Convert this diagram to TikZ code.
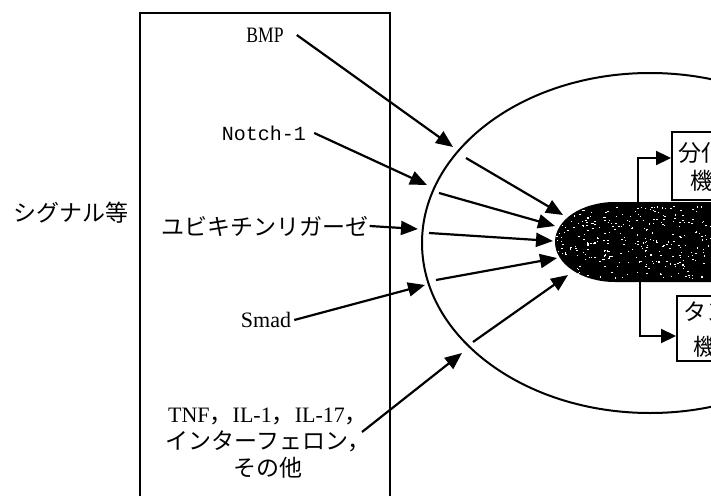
\documentclass[tikz,border=0pt]{standalone}
\usepackage{fontspec}
\setmainfont{Liberation Serif}
\newfontfamily\monof{Liberation Mono}
\newfontfamily\narrowserif{Liberation Serif}[FakeStretch=0.8]
\newfontfamily\cjk{Noto Sans CJK JP}
\usetikzlibrary{arrows.meta}
\newcommand\jtext[1]{{\cjk\fontsize{23}{27}\selectfont #1}}
\newcommand\jcomma{\makebox[23pt][l]{\jtext{，}}}
\begin{document}
\begin{tikzpicture}[x=1pt,y=-1pt,
  lbl/.style={font=\fontsize{22}{27}\selectfont, inner sep=0pt},
  arr/.style={line width=2.2pt, -{Triangle[length=17pt,width=14pt]}},
  elb/.style={line width=2.2pt, -{Triangle[length=15pt,width=14pt]}},
  frame/.style={line width=2.8pt},
  ring/.style={line width=2pt},
  rbox/.style={draw, line width=2pt, anchor=north west, inner sep=0pt}]
\useasboundingbox (0,0) rectangle (711,495);
\clip (0,0) rectangle (711,495);

% left frame
\draw[frame] (140,13) rectangle (390,530);

% outer ellipse
\draw[ring] (650,243) ellipse [x radius=228pt, y radius=170pt];

% black core
\begin{scope}
\clip (740,202) -- (615,202) arc[start angle=90, end angle=270, x radius=60pt, y radius=40pt] -- (740,282) -- cycle;
\fill[black] (550,195) rectangle (740,290);
\pgfmathsetseed{11}
\foreach \i in {1,...,320}{
  \pgfmathsetmacro\px{555+rnd*160}
  \pgfmathsetmacro\py{206+rnd*72}
  \fill[white] (\px,\py) rectangle ++(1.4,1.1);
}
\end{scope}

% labels
\node[lbl] (sig) at (71,213) {\jtext{シグナル等}};
\node[lbl, inner xsep=13pt, font=\fontsize{22}{27}\narrowserif] (bmp) at (265,35) {BMP};
\node[lbl, inner xsep=8pt, font=\fontsize{20}{27}\monof] (notch) at (264,133) {Notch-1};
\node[lbl, inner xsep=1pt] (ubi) at (265,226) {\jtext{ユビキチンリガーゼ}};
\node[lbl, inner xsep=3pt] (smad) at (266,320) {Smad};
\node[lbl, align=center] (tnf) at (268,443) {TNF\jcomma IL-1\jcomma IL-17\jcomma\\\jtext{インターフェロン，}\\\jtext{その他}};

% coordinates
\coordinate (tnfs) at (362,432);
\coordinate (t1) at (453,147);
\coordinate (t2) at (427,185);
\coordinate (t3) at (418,229);
\coordinate (t4) at (425,285);
\coordinate (t5) at (462,353);
\coordinate (s1) at (466,158);
\coordinate (s2) at (439,193);
\coordinate (s3) at (429,233);
\coordinate (s4) at (436,280);
\coordinate (s5) at (473,342);
\coordinate (e1) at (563,215);
\coordinate (e2) at (555,226);
\coordinate (e3) at (553,241);
\coordinate (e4) at (557,258);
\coordinate (e5) at (568,275);
\coordinate (ctop) at (638,203);
\coordinate (cbot) at (640,281);

% outer arrows
\draw[arr] (bmp.east) -- (t1);
\draw[arr] (notch.east) -- (t2);
\draw[arr] (ubi.east) -- (t3);
\draw[arr] (smad.east) -- (t4);
\draw[arr] (tnfs) -- (t5);

% inner arrows
\draw[arr] (s1) -- (e1);
\draw[arr] (s2) -- (e2);
\draw[arr] (s3) -- (e3);
\draw[arr] (s4) -- (e4);
\draw[arr] (s5) -- (e5);

% right boxes
\node[rbox, minimum width=90pt, minimum height=68pt] (box1) at (671,131) {};
\node[lbl, anchor=west] (b1a) at (678,153) {\jtext{分化等}};
\node[lbl, anchor=west] (b1b) at (690,181) {\jtext{機能}};
\node[rbox, minimum width=90pt, minimum height=65pt] (box2) at (676,295) {};
\node[lbl, anchor=west] (b2a) at (683,312) {\jtext{タンパク質}};
\node[lbl, anchor=west] (b2b) at (693,347) {\jtext{機能}};

\draw[elb] (ctop) |- (box1.west |- 0,158);
\draw[elb] (cbot) |- (box2.west |- 0,336);
\end{tikzpicture}
\end{document}
